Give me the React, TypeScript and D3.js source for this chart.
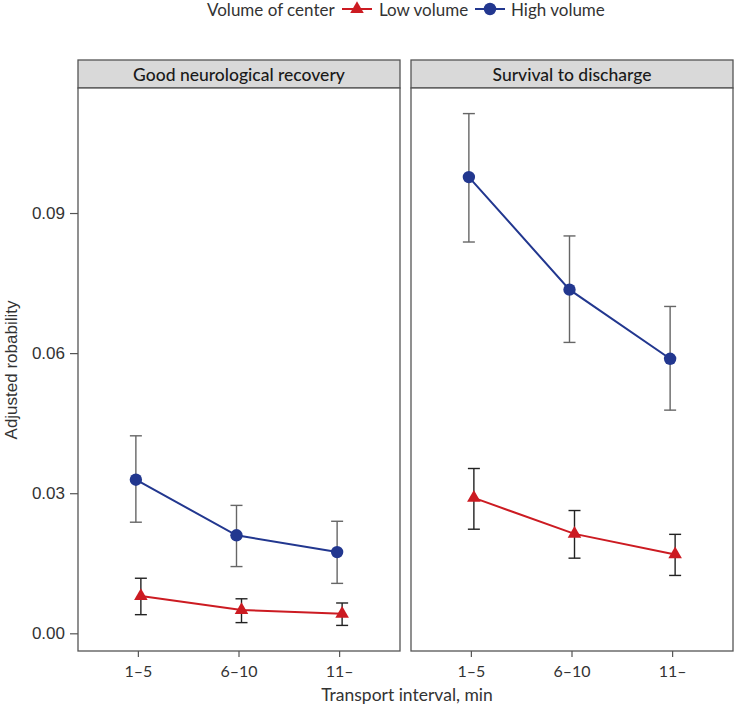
import React from 'react';
import * as d3 from 'd3';

const intervals = ['1–5', '6–10', '11–'];
const outcomes = ['Good neurological recovery', 'Survival to discharge'];
const volumes = ['Low volume', 'High volume'];

const neuroLow = [0.0081, 0.0051, 0.0043];
const neuroLowLower = [0.0041, 0.0024, 0.0018];
const neuroLowUpper = [0.0119, 0.0075, 0.0066];
const neuroHigh = [0.033, 0.0211, 0.0175];
const neuroHighLower = [0.0239, 0.0144, 0.0108];
const neuroHighUpper = [0.0424, 0.0275, 0.0241];

const survLow = [0.0291, 0.0214, 0.017];
const survLowLower = [0.0224, 0.0162, 0.0125];
const survLowUpper = [0.0354, 0.0264, 0.0213];
const survHigh = [0.0978, 0.0737, 0.0589];
const survHighLower = [0.0839, 0.0624, 0.0479];
const survHighUpper = [0.1114, 0.0852, 0.0701];

const yTicks = [0, 0.03, 0.06, 0.09];

const W = 736;
const H = 708;
const panelTop = 88;
const stripTop = 60;
const panelBottom = 651;
const panelX = [[78, 400], [411, 733]];

const colors = { 'Low volume': '#cc1b22', 'High volume': '#22378f' };
const barColors = { 'Low volume': '#222', 'High volume': '#666' };
const dodge = { 'Low volume': 2.5, 'High volume': -2.5 };

const panels = [
  {
    name: outcomes[0],
    series: [
      { vol: volumes[0], mean: neuroLow, lo: neuroLowLower, hi: neuroLowUpper },
      { vol: volumes[1], mean: neuroHigh, lo: neuroHighLower, hi: neuroHighUpper },
    ],
  },
  {
    name: outcomes[1],
    series: [
      { vol: volumes[0], mean: survLow, lo: survLowLower, hi: survLowUpper },
      { vol: volumes[1], mean: survHigh, lo: survHighLower, hi: survHighUpper },
    ],
  },
];

const uiFont = 'Lato, "Noto Sans", sans-serif';
const numFont = '"Liberation Sans", Arial, sans-serif';

const allVals = [...neuroLowLower, ...neuroHighUpper, ...survLowLower, ...survHighUpper];
const lo = d3.min(allVals) as number;
const hi = d3.max(allVals) as number;
const pad = (hi - lo) * 0.05;
const y = d3.scaleLinear().domain([lo - pad, hi + pad]).range([panelBottom, panelTop]);

const triangle = d3.symbol().type(d3.symbolTriangle).size(80);

const Marker = ({ vol, x, yy }) =>
  vol === 'Low volume' ? (
    <path d={triangle() as string} transform={`translate(${x},${yy})`} fill={colors[vol]} />
  ) : (
    <circle cx={x} cy={yy} r={6.2} fill={colors[vol]} />
  );

const Panel = ({ panel, range }) => {
  const x = d3.scalePoint().domain(intervals).range(range).padding(0.6);
  const cx = (range[0] + range[1]) / 2;
  return (
    <g>
      <rect x={range[0]} y={stripTop} width={range[1] - range[0]} height={panelTop - stripTop}
        fill="#d9d9d9" stroke="#555" strokeWidth={1.3} />
      <text x={cx} y={stripTop + 14} textAnchor="middle" dominantBaseline="central"
        fontFamily={uiFont} fontSize={17.5} fontWeight={500} fill="#1a1a1a">{panel.name}</text>
      <rect x={range[0]} y={panelTop} width={range[1] - range[0]} height={panelBottom - panelTop}
        fill="#fff" stroke="#555" strokeWidth={1.3} />
      {intervals.map((iv) => (
        <g key={iv}>
          <line x1={x(iv)} x2={x(iv)} y1={panelBottom} y2={panelBottom + 6} stroke="#555" strokeWidth={1.2} />
          <text x={x(iv)} y={panelBottom + 19} textAnchor="middle" dominantBaseline="central"
            fontFamily={uiFont} fontSize={16} fill="#333">{iv}</text>
        </g>
      ))}
      {panel.series.map((s) => {
        const px = (i) => (x(intervals[i]) as number) + dodge[s.vol];
        const line = d3.line<number>().x((_, i) => px(i)).y((d) => y(d));
        return (
          <g key={s.vol}>
            {s.mean.map((_, i) => (
              <g key={i} stroke={barColors[s.vol]} strokeWidth={1.4}>
                <line x1={px(i)} x2={px(i)} y1={y(s.lo[i])} y2={y(s.hi[i])} />
                <line x1={px(i) - 6} x2={px(i) + 6} y1={y(s.lo[i])} y2={y(s.lo[i])} />
                <line x1={px(i) - 6} x2={px(i) + 6} y1={y(s.hi[i])} y2={y(s.hi[i])} />
              </g>
            ))}
            <path d={line(s.mean) as string} fill="none" stroke={colors[s.vol]} strokeWidth={2} />
            {s.mean.map((v, i) => (
              <Marker key={i} vol={s.vol} x={px(i)} yy={y(v)} />
            ))}
          </g>
        );
      })}
    </g>
  );
};

export default function App() {
  return (
    <svg width={W} height={H} style={{ position: 'absolute', left: 0, top: 0, background: '#fff' }}>
      {/* legend */}
      <g fontFamily={uiFont} fontSize={17} fill="#333">
        <text x={207} y={9} dominantBaseline="central">Volume of center</text>
        <line x1={342} x2={372} y1={9} y2={9} stroke={colors['Low volume']} strokeWidth={2} />
        <Marker vol="Low volume" x={357} yy={9} />
        <text x={379} y={9} dominantBaseline="central">Low volume</text>
        <line x1={475} x2={505} y1={9} y2={9} stroke={colors['High volume']} strokeWidth={2} />
        <Marker vol="High volume" x={490} yy={9} />
        <text x={511} y={9} dominantBaseline="central">High volume</text>
      </g>

      {/* y axis */}
      {yTicks.map((t) => (
        <g key={t}>
          <line x1={70} x2={78} y1={y(t)} y2={y(t)} stroke="#555" strokeWidth={1.2} />
          <text x={65} y={y(t)} textAnchor="end" dominantBaseline="central"
            fontFamily={numFont} fontSize={17} fill="#333">{d3.format('.2f')(t)}</text>
        </g>
      ))}
      <text transform="translate(11,370) rotate(-90)" textAnchor="middle" dominantBaseline="central"
        fontFamily={numFont} fontSize={17} fill="#333">Adjusted robability</text>

      {panels.map((p, i) => (
        <Panel key={p.name} panel={p} range={panelX[i]} />
      ))}

      <text x={407} y={694} textAnchor="middle" dominantBaseline="central"
        fontFamily={uiFont} fontSize={17.5} fill="#333">Transport interval, min</text>
    </svg>
  );
}
